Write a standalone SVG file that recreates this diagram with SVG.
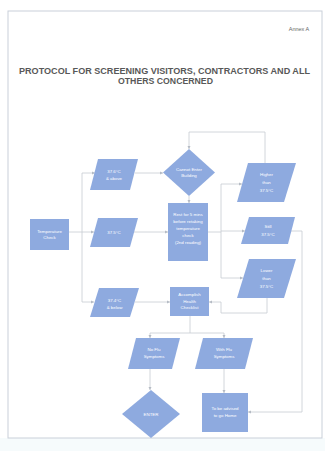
<svg xmlns="http://www.w3.org/2000/svg" width="325" height="451" viewBox="0 0 325 451">
<defs>
<marker id="ah" viewBox="0 0 6 6" refX="6" refY="3" markerWidth="4" markerHeight="4" orient="auto">
<path d="M0,0 L6,3 L0,6 z" fill="#b5bbc4"/>
</marker>
<style>
.n{fill:#8eaadf;}
.t{font-family:"Liberation Sans",Arial,sans-serif;font-size:4.4px;fill:#ffffff;text-anchor:middle;}
.c{fill:none;stroke:#c6cbd2;stroke-width:0.8;}
.a{marker-end:url(#ah);}
.h{font-family:"Liberation Sans",Arial,sans-serif;font-weight:bold;fill:#585858;text-anchor:middle;}
</style>
</defs>
<rect x="0" y="0" width="325" height="451" fill="#ffffff"/>
<rect x="0" y="438" width="325" height="13" fill="#f6fbfc"/>
<rect x="8" y="11" width="314" height="427" fill="none" stroke="#c9d0d9" stroke-width="1"/>
<g id="header">
<text x="299" y="31" font-family="Liberation Sans,Arial,sans-serif" font-size="5.5" fill="#666" text-anchor="middle">Annex A</text>
<text class="h" x="164.5" y="74" font-size="8.6" textLength="291" lengthAdjust="spacingAndGlyphs">PROTOCOL FOR SCREENING VISITORS, CONTRACTORS AND ALL</text>
<text class="h" x="165.5" y="84" font-size="8.6" textLength="95" lengthAdjust="spacingAndGlyphs">OTHERS CONCERNED</text>
</g>
<g id="connectors">
<path class="c" d="M69,232 H82"/>
<path class="c" d="M82,173 V302"/>
<path class="c a" d="M82,173 H95"/>
<path class="c a" d="M82,232 H94"/>
<path class="c a" d="M82,302 H94"/>
<path class="c a" d="M135,173 H163"/>
<path class="c a" d="M134,232 H168"/>
<path class="c a" d="M135,302 H170"/>
<path class="c a" d="M265,163 V132 H189 V149"/>
<path class="c a" d="M189,196 V203"/>
<path class="c" d="M208,232 H221"/>
<path class="c" d="M221,184 V278"/>
<path class="c a" d="M221,184 H242"/>
<path class="c a" d="M221,231 H245"/>
<path class="c a" d="M221,278 H243"/>
<path class="c a" d="M267,298 V313 H221 V302 H209"/>
<path class="c a" d="M291,231 H302 V412 H248"/>
<path class="c" d="M190,316 V333"/>
<path class="c" d="M150,333 H224"/>
<path class="c a" d="M150,333 V338"/>
<path class="c a" d="M224,333 V338"/>
<path class="c a" d="M150,369 V390"/>
<path class="c a" d="M224,369 V393"/>
</g>
<g id="temp-check"><rect class="n" x="30" y="219" width="39" height="31"/><text class="t" x="49.5" y="233">Temperature</text><text class="t" x="49.5" y="239">Check</text></g>
<g id="t376"><polygon class="n" points="98,159 138,159 130,190 90,190"/><text class="t" x="114" y="173" font-size="5.5">37.6°C</text><text class="t" x="114" y="180">&amp; above</text></g>
<g id="t375"><polygon class="n" points="98,218 138,218 130,247 90,247"/><text class="t" x="114" y="234" font-size="5.5">37.5°C</text></g>
<g id="t374"><polygon class="n" points="99,288 139,288 130,317 90,317"/><text class="t" x="114.5" y="302" font-size="5.5">37.4°C</text><text class="t" x="114.5" y="309">&amp; below</text></g>
<g id="cannot-enter"><polygon class="n" points="189,149 215,172.5 189,196 163,172.5"/><text class="t" x="189" y="171">Cannot Enter</text><text class="t" x="189" y="177">Building</text></g>
<g id="rest"><rect class="n" x="168" y="203" width="40" height="58"/><text class="t" x="188" y="216">Rest for 5 mins</text><text class="t" x="188" y="223">before retaking</text><text class="t" x="188" y="230">temperature</text><text class="t" x="188" y="237">check</text><text class="t" x="188" y="244">(2nd reading)</text></g>
<g id="higher"><polygon class="n" points="248,163 296,163 284,202 237,202"/><text class="t" x="266.5" y="176">Higher</text><text class="t" x="266.5" y="184">than</text><text class="t" x="266.5" y="192">37.5°C</text></g>
<g id="still"><polygon class="n" points="249,217 295,217 288,244 241,244"/><text class="t" x="268" y="228">Still</text><text class="t" x="268" y="236">37.5°C</text></g>
<g id="lower"><polygon class="n" points="249,259 296,259 284,298 237,298"/><text class="t" x="266.5" y="272">Lower</text><text class="t" x="266.5" y="280">than</text><text class="t" x="266.5" y="288">37.5°C</text></g>
<g id="checklist"><rect class="n" x="170" y="287" width="39" height="29"/><text class="t" x="189.5" y="296">Accomplish</text><text class="t" x="189.5" y="302.5">Health</text><text class="t" x="189.5" y="309">Checklist</text></g>
<g id="no-flu"><polygon class="n" points="136,338 180,338 172,369 128,369"/><text class="t" x="154" y="351">No Flu</text><text class="t" x="154" y="358">Symptoms</text></g>
<g id="with-flu"><polygon class="n" points="203,338 253,338 245,369 195,369"/><text class="t" x="224" y="351">With Flu</text><text class="t" x="224" y="358">Symptoms</text></g>
<g id="enter"><polygon class="n" points="151,390 180,414 151,438 122,414"/><text class="t" x="151" y="416" font-size="5">ENTER</text></g>
<g id="advised"><rect class="n" x="202" y="393" width="46" height="39"/><text class="t" x="225" y="410">To be advised</text><text class="t" x="225" y="417">to go Home</text></g>
</svg>
